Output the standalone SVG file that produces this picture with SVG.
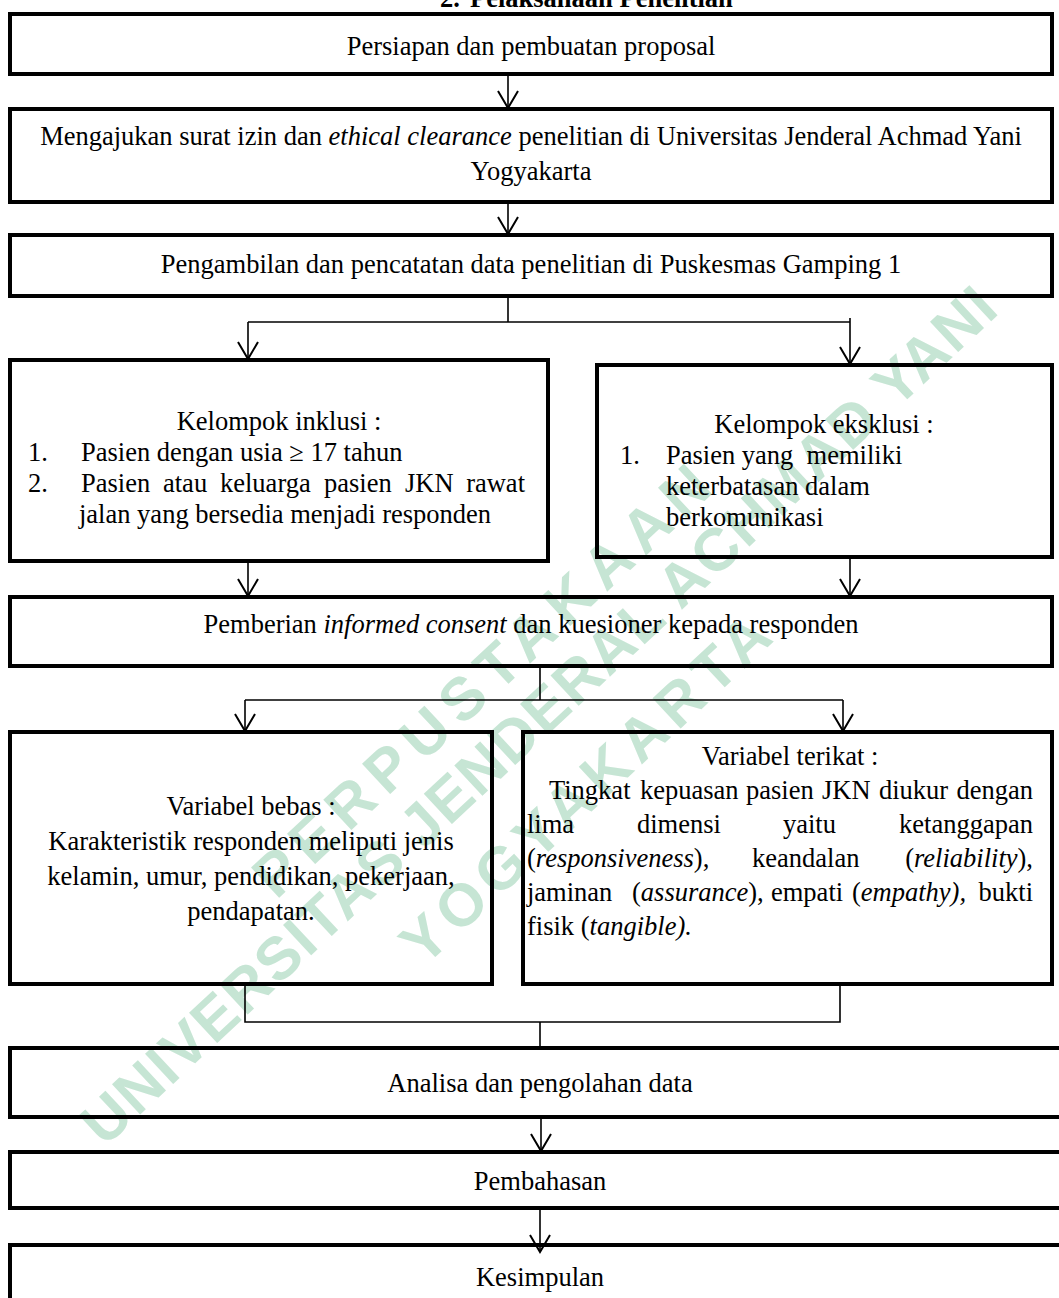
<svg xmlns="http://www.w3.org/2000/svg" width="1059" height="1298" viewBox="0 0 1059 1298">
<style>
.t{font-family:"Liberation Serif","Times New Roman",serif;font-size:26.5px;fill:#000;white-space:pre}
.c{text-anchor:middle}
.e{text-anchor:end}
.i{font-style:italic}
.box{fill:none;stroke:#000;stroke-width:4}
.ln{fill:none;stroke:#000;stroke-width:1.6}
.wm{font-family:"Liberation Sans",Arial,sans-serif;font-weight:bold;font-size:60px;fill:#c6e5d4;text-anchor:middle}
</style>
<defs>
<marker id="arr" viewBox="0 0 20 22" markerWidth="20" markerHeight="22" refX="18" refY="11" orient="auto" markerUnits="userSpaceOnUse">
<path d="M1,1 L18,11 L1,21" fill="none" stroke="#000" stroke-width="2"/>
</marker>
</defs>
<rect x="0" y="0" width="1059" height="1298" fill="#fff"/>
<g id="watermark" transform="translate(540,720) rotate(-43)">
<text class="wm" x="-16" y="-48" textLength="600">PERPUSTAKAAN</text>
<text class="wm" x="2" y="16" textLength="1225">UNIVERSITAS JENDERAL ACHMAD YANI</text>
<text class="wm" x="-14" y="102" textLength="480">YOGYAKARTA</text>
</g>
<text class="t" y="7" font-weight="bold"><tspan x="440">2.</tspan><tspan x="470">Pelaksanaan Penelitian</tspan></text>
<g id="connectors">
<line class="ln" x1="508" y1="74" x2="508" y2="108" marker-end="url(#arr)"/>
<line class="ln" x1="508" y1="202" x2="508" y2="234" marker-end="url(#arr)"/>
<polyline class="ln" points="508,296 508,322"/>
<polyline class="ln" points="248,322 850,322"/>
<line class="ln" x1="248" y1="322" x2="248" y2="359" marker-end="url(#arr)"/>
<line class="ln" x1="850" y1="318" x2="850" y2="364" marker-end="url(#arr)"/>
<line class="ln" x1="248" y1="561" x2="248" y2="596" marker-end="url(#arr)"/>
<line class="ln" x1="850" y1="557" x2="850" y2="596" marker-end="url(#arr)"/>
<polyline class="ln" points="540,666 540,700"/>
<polyline class="ln" points="245,700 843,700"/>
<line class="ln" x1="245" y1="700" x2="245" y2="731" marker-end="url(#arr)"/>
<line class="ln" x1="843" y1="700" x2="843" y2="731" marker-end="url(#arr)"/>
<polyline class="ln" points="245,984 245,1022 840,1022 840,984"/>
<polyline class="ln" points="540,1022 540,1048"/>
<line class="ln" x1="541" y1="1117" x2="541" y2="1151" marker-end="url(#arr)"/>
<line class="ln" x1="540" y1="1208" x2="540" y2="1252" marker-end="url(#arr)"/>
</g>
<g id="n1">
<rect class="box" x="10" y="14" width="1042" height="60"/>
<text class="t c" x="531" y="55">Persiapan dan pembuatan proposal</text>
</g>
<g id="n2">
<rect class="box" x="10" y="109" width="1042" height="93"/>
<text class="t c" x="531" y="145">Mengajukan surat izin dan <tspan class="i">ethical clearance</tspan> penelitian di Universitas Jenderal Achmad Yani</text>
<text class="t c" x="531" y="180">Yogyakarta</text>
</g>
<g id="n3">
<rect class="box" x="10" y="235" width="1042" height="61"/>
<text class="t c" x="531" y="273">Pengambilan dan pencatatan data penelitian di Puskesmas Gamping 1</text>
</g>
<g id="n4a">
<rect class="box" x="10" y="360" width="538" height="201"/>
<text class="t c" x="279" y="430">Kelompok inklusi :</text>
<text class="t" x="28" y="461">1.</text>
<text class="t" x="81" y="461">Pasien dengan usia ≥ 17 tahun</text>
<text class="t" x="28" y="492">2.</text>
<text class="t" y="492"><tspan x="81">Pasien</tspan><tspan x="163">atau</tspan><tspan x="220">keluarga</tspan><tspan x="324">pasien</tspan><tspan x="405">JKN</tspan><tspan x="525" class="e">rawat</tspan></text>
<text class="t" x="79" y="523">jalan yang bersedia menjadi responden</text>
</g>
<g id="n4b">
<rect class="box" x="597" y="365" width="455" height="192"/>
<text class="t c" x="824" y="433">Kelompok eksklusi :</text>
<text class="t" x="620" y="464">1.</text>
<text class="t" x="666" y="464">Pasien yang  memiliki</text>
<text class="t" x="666" y="495">keterbatasan dalam</text>
<text class="t" x="666" y="526">berkomunikasi</text>
</g>
<g id="n5">
<rect class="box" x="10" y="597" width="1042" height="69"/>
<text class="t c" x="531" y="633">Pemberian <tspan class="i">informed consent</tspan> dan kuesioner kepada responden</text>
</g>
<g id="n6a">
<rect class="box" x="10" y="732" width="482" height="252"/>
<text class="t c" x="251" y="815">Variabel bebas :</text>
<text class="t c" x="251" y="850">Karakteristik responden meliputi jenis</text>
<text class="t c" x="251" y="885">kelamin, umur, pendidikan, pekerjaan,</text>
<text class="t c" x="251" y="920">pendapatan.</text>
</g>
<g id="n6b">
<rect class="box" x="523" y="732" width="529" height="252"/>
<text class="t c" x="790" y="765">Variabel terikat :</text>
<text class="t" y="799"><tspan x="549">Tingkat</tspan><tspan x="640">kepuasan</tspan><tspan x="746">pasien</tspan><tspan x="822">JKN</tspan><tspan x="879">diukur</tspan><tspan x="1033" class="e">dengan</tspan></text>
<text class="t" y="833"><tspan x="527">lima</tspan><tspan x="637">dimensi</tspan><tspan x="783">yaitu</tspan><tspan x="1033" class="e">ketanggapan</tspan></text>
<text class="t" y="867"><tspan x="527">(<tspan class="i">responsiveness</tspan>),</tspan><tspan x="752">keandalan</tspan><tspan x="1033" class="e">(<tspan class="i">reliability</tspan>),</tspan></text>
<text class="t" y="901"><tspan x="527">jaminan</tspan><tspan x="632">(<tspan class="i">assurance</tspan>),</tspan><tspan x="771">empati</tspan><tspan x="852">(<tspan class="i">empathy),</tspan></tspan><tspan x="1033" class="e">bukti</tspan></text>
<text class="t" x="527" y="935">fisik (<tspan class="i">tangible).</tspan></text>
</g>
<g id="n7">
<rect class="box" x="10" y="1048" width="1060" height="69"/>
<text class="t c" x="540" y="1092">Analisa dan pengolahan data</text>
</g>
<g id="n8">
<rect class="box" x="10" y="1152" width="1060" height="56"/>
<text class="t c" x="540" y="1190">Pembahasan</text>
</g>
<g id="n9">
<rect class="box" x="10" y="1245" width="1060" height="80"/>
<text class="t c" x="540" y="1286">Kesimpulan</text>
</g>
</svg>
